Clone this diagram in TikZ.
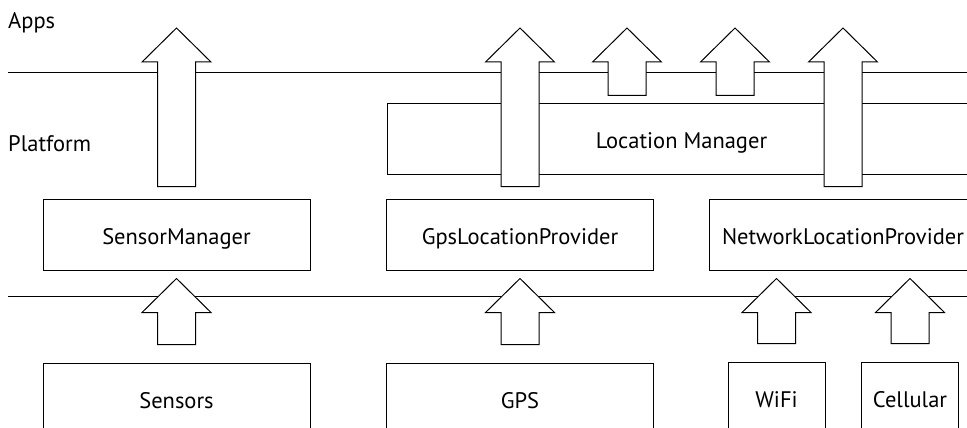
\documentclass[tikz,border=0pt]{standalone}
\usepackage{fontspec}
\setmainfont{PT Sans}
\usetikzlibrary{calc,positioning}
\tikzset{
  layer/.style={line width=1pt},
  layername/.style={anchor=base west, inner sep=0pt, font=\fontsize{22.5}{26}\selectfont},
  box/.style={draw, line width=1pt, minimum height=71pt, inner sep=0pt,
    text height=19pt, text depth=0pt, font=\fontsize{22.5}{26}\selectfont},
  blockarr/.style={draw, fill=white, line width=1pt, line join=miter}
}
\newcommand{\blockup}[2]{%
  \draw[blockarr] let \p1=#1, \p2=#2 in
    (\x1-\shafthalf,\y1) -- (\x1-\shafthalf,\y2-\headlen)
    -- (\x1-\headhalf,\y2-\headlen) -- (\x1,\y2)
    -- (\x1+\headhalf,\y2-\headlen) -- (\x1+\shafthalf,\y2-\headlen)
    -- (\x1+\shafthalf,\y1) -- cycle;%
}

\begin{document}
\begin{tikzpicture}[x=1pt, y=-1pt]

  % sizes of the block arrows
  \def\shafthalf{19pt}
  \def\headhalf{34.5pt}
  \def\headlen{34pt}

  \clip (0,0) rectangle (967,428);

  % layer borders
  \draw[layer] (8,73) -- (967,73);
  \draw[layer] (8,296.5) -- (967,296.5);
  \node[layername] (apps) at (8,29) {Apps};
  \node[layername] (platform) at (8,151.5) {Platform};

  % platform
  \node[box, minimum width=589pt] (locmgr) at (681.5,138.5) {Location Manager};
  \foreach \name/\x/\txt in {
    sensormgr/176.5/SensorManager,
    gpsprov/520/GpsLocationProvider,
    netprov/843/NetworkLocationProvider
  }{
    \node[box, minimum width=267pt] (\name) at (\x,234.5) {\txt};
  }

  % hardware
  \node[box, minimum width=267pt, below=92pt of sensormgr] (sensors) {Sensors};
  \node[box, minimum width=267pt, below=92pt of gpsprov] (gps) {GPS};
  \node[box, minimum width=97pt] (wifi) at (776.5,397.5) {WiFi};
  \node[box, minimum width=97pt] (cell) at (910,397.5) {Cellular};

  % arrows up to the apps
  \coordinate (tipline) at (0,28);
  \coordinate (lm1) at ($(locmgr.north)+(-54.5,0)$);
  \coordinate (lm2) at ($(locmgr.north)+(53.5,0)$);
  \blockup{($(sensormgr.north)+(0,-12)$)}{(sensormgr.north |- tipline)}
  \blockup{($(gpsprov.north)+(0,-12)$)}{(gpsprov.north |- tipline)}
  \blockup{($(netprov.north)+(0,-12)$)}{(netprov.north |- tipline)}
  \blockup{($(lm1)+(0,-7)$)}{(lm1 |- tipline)}
  \blockup{($(lm2)+(0,-7)$)}{(lm2 |- tipline)}

  % arrows up from the hardware
  \blockup{($(sensors.north)+(0,-18)$)}{($(sensormgr.south)+(0,8)$)}
  \blockup{($(gps.north)+(0,-18)$)}{($(gpsprov.south)+(0,8)$)}
  \blockup{($(wifi.north)+(0,-18)$)}{($(wifi.north |- netprov.south)+(0,8)$)}
  \blockup{($(cell.north)+(0,-18)$)}{($(cell.north |- netprov.south)+(0,8)$)}

\end{tikzpicture}
\end{document}
